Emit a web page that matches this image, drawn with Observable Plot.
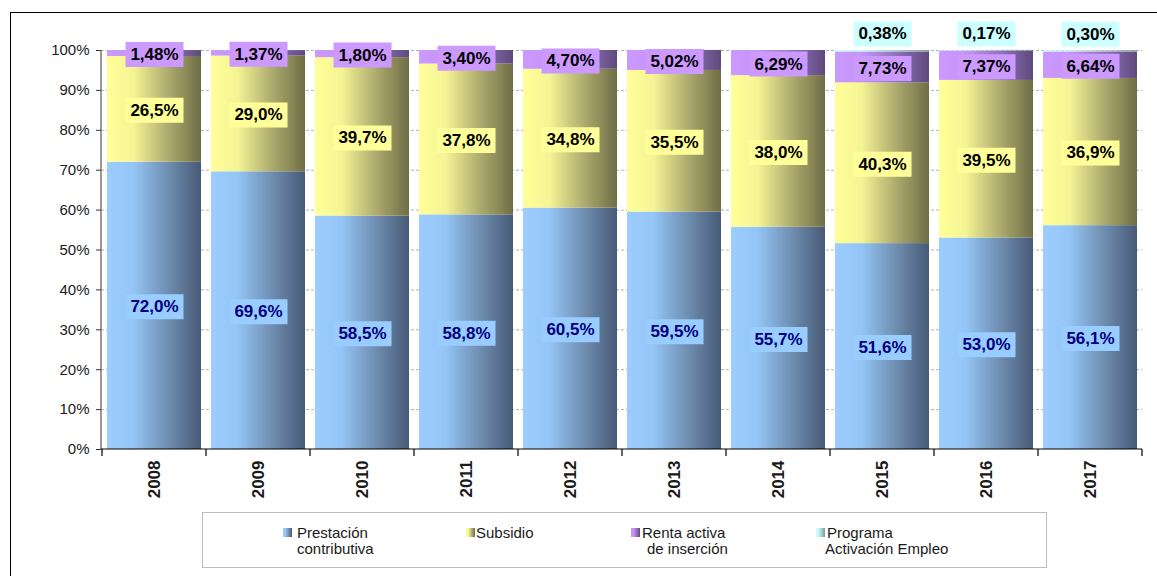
<!DOCTYPE html>
<html>
<head>
<meta charset="utf-8">
<script src="https://cdn.jsdelivr.net/npm/d3@7"></script>
<script src="https://cdn.jsdelivr.net/npm/@observablehq/plot@0.6"></script>
<style>
html, body { margin: 0; padding: 0; background: #fff; overflow: hidden; width: 1157px; height: 576px; }
#wrap { position: relative; width: 1157px; height: 576px; font-family: "Liberation Sans", Arial, sans-serif; }
#chart { position: absolute; left: 0; top: 0; }
#frame { position: absolute; left: 10px; top: 12px; width: 1300px; height: 800px; border: 1.5px solid #000; box-sizing: border-box; pointer-events: none; }
#legend { position: absolute; left: 202px; top: 512px; width: 845px; height: 56px; border: 1px solid #bdbdbd; box-sizing: border-box; background: #fff; }
.item { position: absolute; font-size: 15px; line-height: 16px; color: #1a1a1a; white-space: nowrap; }
.sw { position: absolute; width: 9px; height: 9px; }
svg g[aria-label="x-axis tick label"] text { font-weight: bold; }
</style>
</head>
<body>
<div id="wrap">
  <div id="chart"></div>
  <div id="legend"></div>
  <div id="frame"></div>
</div>
<script>
// ---- data ----
const years = ["2008", "2009", "2010", "2011", "2012", "2013", "2014", "2015", "2016", "2017"];
const seriesNames = ["Prestación contributiva", "Subsidio", "Renta activa de inserción", "Programa Activación Empleo"];
const prestacion = [72.0, 69.6, 58.5, 58.8, 60.5, 59.5, 55.7, 51.6, 53.0, 56.1];
const subsidio   = [26.5, 29.0, 39.7, 37.8, 34.8, 35.5, 38.0, 40.3, 39.5, 36.9];
const renta      = [1.48, 1.37, 1.80, 3.40, 4.70, 5.02, 6.29, 7.73, 7.37, 6.64];
const programa   = [null, null, null, null, null, null, null, 0.38, 0.17, 0.30];
const decimals   = [1, 1, 2, 2];
const yTicks = [0, 10, 20, 30, 40, 50, 60, 70, 80, 90, 100];

// ---- styles ----
const gradStops = [
  [["0", "#9CCDFF"], ["0.28", "#94C5F5"], ["0.65", "#6F8DB0"], ["1", "#465A76"]],
  [["0", "#FFFF99"], ["0.28", "#F5F495"], ["0.65", "#ADAB6E"], ["1", "#6F6D45"]],
  [["0", "#CC99FF"], ["0.28", "#C594F6"], ["0.65", "#9272BC"], ["1", "#5E497B"]],
  [["0", "#CCFFFF"], ["0.3", "#C4F6F6"], ["1", "#7E9C9C"]]
];
const labelBg = ["#99CCFF", "#FFFF99", "#CC99FF", "#CCFFFF"];
const labelInk = ["#000080", "#000", "#000", "#000"];

const allSeries = [prestacion, subsidio, renta, programa];
const rows = [];
years.forEach((yr, i) => {
  allSeries.forEach((arr, s) => {
    if (arr[i] != null) rows.push({year: yr, s, series: seriesNames[s], value: arr[i]});
  });
});
const fmt = d => d.value.toFixed(decimals[d.s]).replace(".", ",") + "%";

const boxSymbol = {
  draw(ctx) {
    ctx.moveTo(-29, -12.5); ctx.lineTo(29, -12.5); ctx.lineTo(29, 12.5); ctx.lineTo(-29, 12.5); ctx.closePath();
  }
};

function gradientDefs() {
  const defs = d3.create("svg:defs");
  gradStops.forEach((stops, s) => {
    const g = defs.append("linearGradient").attr("id", "grad" + s).attr("x1", 0).attr("x2", 1).attr("y1", 0).attr("y2", 0);
    stops.forEach(([o, c]) => g.append("stop").attr("offset", o).attr("stop-color", c));
  });
  return defs.node();
}

function axisLines(index, scales, values, dims) {
  const x = scales.x;
  const {width, height, marginLeft, marginRight, marginTop, marginBottom} = dims;
  const y0 = height - marginBottom;
  const n = years.length;
  const st = x.step ? x.step() : (width - marginLeft - marginRight) / n;
  const bw = x.bandwidth ? x.bandwidth() : st * 0.9;
  const half = (st - bw) / 2;
  const bounds = years.map(d => x(d) - half);
  bounds.push(x(years[n - 1]) + bw + half);
  const g = d3.create("svg:g");
  g.append("line").attr("x1", marginLeft).attr("x2", marginLeft).attr("y1", marginTop).attr("y2", y0)
    .attr("stroke", "#555").attr("stroke-width", 1.2);
  g.append("line").attr("x1", marginLeft).attr("x2", width - marginRight).attr("y1", y0).attr("y2", y0)
    .attr("stroke", "#000").attr("stroke-width", 1.2);
  bounds.forEach(b => g.append("line").attr("x1", b).attr("x2", b).attr("y1", y0).attr("y2", y0 + 7)
    .attr("stroke", "#000").attr("stroke-width", 1.2));
  return g.node();
}

const chart = Plot.plot({
  width: 1157,
  height: 576,
  marginTop: 50,
  marginBottom: 127,
  marginLeft: 101,
  marginRight: 15,
  style: {fontFamily: '"Liberation Sans", Arial, sans-serif', background: "transparent", color: "#1a1a1a"},
  x: {domain: years, paddingInner: 0.1, paddingOuter: 0.05, label: null},
  y: {domain: [0, 100], label: null},
  color: {type: "identity"},
  marks: [
    gradientDefs,
    Plot.ruleY(yTicks.filter(t => t > 0), {stroke: "#b3b3b3", strokeDasharray: "3,2", strokeWidth: 1}),
    Plot.barY(rows, {x: "year", y: "value", fill: d => `url(#grad${d.s})`}),
    Plot.axisY({ticks: yTicks, tickFormat: d => d + "%", tickSize: 5, tickPadding: 7, fontSize: 15, stroke: "#333", label: null}),
    Plot.axisX({tickSize: 0, tickPadding: 11, tickRotate: -90, fontSize: 17, fontWeight: "bold", label: null}),
    axisLines,
    // label boxes inside segments
    Plot.dot(rows, Plot.stackY({x: "year", y: "value", r: d => d.s < 3 ? 1 : 0, symbol: boxSymbol, fill: d => labelBg[d.s], dy: 1})),
    // label boxes above the bars (Programa)
    Plot.dot(rows, Plot.stackY2({x: "year", y: "value", r: d => d.s === 3 ? 1 : 0, symbol: boxSymbol, fill: d => labelBg[d.s], dy: -16.5})),
    Plot.text(rows, Plot.stackY({x: "year", y: "value", text: d => d.s < 3 ? fmt(d) : null, fill: d => labelInk[d.s], fontSize: 17, fontWeight: "bold", dy: 1})),
    Plot.text(rows, Plot.stackY2({x: "year", y: "value", text: d => d.s === 3 ? fmt(d) : null, fill: d => labelInk[d.s], fontSize: 17, fontWeight: "bold", dy: -16.5}))
  ]
});
document.getElementById("chart").appendChild(chart);

// ---- legend ----
const legendItems = [
  {s: 0, sx: 283, tx: 297, lines: ["Prestación", "contributiva"], indent: 0},
  {s: 1, sx: 466, tx: 476, lines: ["Subsidio"], indent: 0},
  {s: 2, sx: 631, tx: 642, lines: ["Renta activa", "de inserción"], indent: 5},
  {s: 3, sx: 816, tx: 827, lines: ["Programa", "Activación Empleo"], indent: -2}
];
const wrap = document.getElementById("wrap");
legendItems.forEach(it => {
  const sw = document.createElement("div");
  sw.className = "sw";
  sw.style.left = it.sx + "px";
  sw.style.top = "528px";
  const stops = gradStops[it.s].map(([o, c]) => `${c} ${Math.round(+o * 100)}%`).join(", ");
  sw.style.background = `linear-gradient(to right, ${stops})`;
  wrap.appendChild(sw);
  it.lines.forEach((ln, k) => {
    const t = document.createElement("div");
    t.className = "item";
    t.textContent = ln;
    t.style.left = (it.tx + (k > 0 ? it.indent : 0)) + "px";
    t.style.top = (525 + k * 16) + "px";
    wrap.appendChild(t);
  });
});
</script>
</body>
</html>
